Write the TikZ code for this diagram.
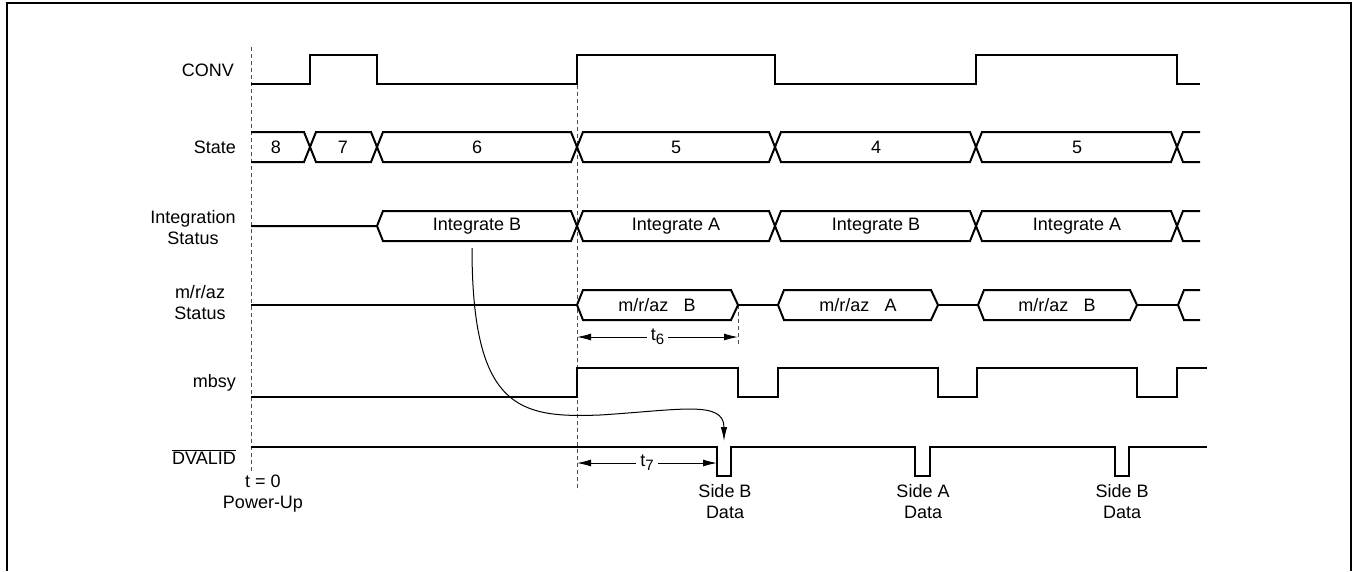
\documentclass[tikz,border=0pt]{standalone}
\usepackage{fontspec}
\setmainfont{Liberation Sans}
\usetikzlibrary{arrows.meta}
\newcommand\lblfont{\fontsize{18pt}{21pt}\selectfont}
\tikzset{
  sig/.style={line width=2pt, line join=miter, line cap=butt},
  frameline/.style={line width=2pt},
  guide/.style={line width=1pt, black!70, dash pattern=on 4pt off 3pt},
  dim/.style={line width=1pt, {Latex[length=14pt,width=7pt]}-{Latex[length=14pt,width=7pt]}},
  lbl/.style={font=\lblfont, inner sep=0pt},
  dimlbl/.style={font=\lblfont, fill=white, inner sep=4pt},
  flow/.style={line width=1pt, -{Latex[length=14pt,width=6.5pt]}}
}
\newcommand\sub[1]{\raisebox{-0.45ex}{\fontsize{15pt}{15pt}\selectfont #1}}
\begin{document}
\begin{tikzpicture}[x=1pt,y=-1pt]
\useasboundingbox (0,0) rectangle (1356,571);
% frame
\draw[frameline] (7,571) -- (7,3) -- (1351,3) -- (1351,571);

% guide lines
\draw[guide] (251,47) -- (251,472);
\draw[guide] (577,85) -- (577,491);
\draw[guide] (738,305) -- (738,344);

% signal names
\node[lbl, anchor=east] (nconv) at (234,70) {CONV};
\node[lbl, anchor=east] (nstate) at (236,147) {State};
\node[lbl, align=center] (nint) at (193,227.5) {Integration\\Status};
\node[lbl, align=center] (nmraz) at (200,302.5) {m/r/az\\Status};
\node[lbl, anchor=east] (nmbsy) at (236,383) {mbsy};
\node[lbl, anchor=east] (ndv) at (236,457) {$\overline{\mbox{DVALID}}$};
\node[lbl, align=center] (npu) at (263,493.5) {t = 0\\Power-Up};

% CONV
\draw[sig] (251,84) -- (310,84) -- (310,55) -- (377,55) -- (377,84) -- (577,84) -- (577,55)
  -- (775,55) -- (775,84) -- (976,84) -- (976,55) -- (1177,55) -- (1177,84) -- (1200,84);

% State bus
\draw[sig] (251,132) -- (304,132) -- (316,162) -- (371,162) -- (383,132) -- (571,132) -- (583,162)
  -- (769,162) -- (781,132) -- (970,132) -- (982,162) -- (1171,162) -- (1183,132) -- (1200,132);
\draw[sig] (251,162) -- (304,162) -- (316,132) -- (371,132) -- (383,162) -- (571,162) -- (583,132)
  -- (769,132) -- (781,162) -- (970,162) -- (982,132) -- (1171,132) -- (1183,162) -- (1200,162);
\node[lbl] (s8) at (276,147) {8};
\node[lbl] (s7) at (343,147) {7};
\node[lbl] (s6) at (477,147) {6};
\node[lbl] (s5a) at (676,147) {5};
\node[lbl] (s4) at (876,147) {4};
\node[lbl] (s5b) at (1077,147) {5};

% Integration status bus
\draw[sig] (251,226) -- (377,226) -- (383,211) -- (571,211) -- (583,241) -- (769,241) -- (781,211)
  -- (970,211) -- (982,241) -- (1171,241) -- (1183,211) -- (1200,211);
\draw[sig] (377,226) -- (383,241) -- (571,241) -- (583,211) -- (769,211) -- (781,241)
  -- (970,241) -- (982,211) -- (1171,211) -- (1183,241) -- (1200,241);
\node[lbl] (ib1) at (477,226) {Integrate B};
\node[lbl] (ia1) at (676,226) {Integrate A};
\node[lbl] (ib2) at (876,226) {Integrate B};
\node[lbl] (ia2) at (1077,226) {Integrate A};

% m/r/az status
\draw[sig] (251,305) -- (577,305);
\draw[sig] (577,305) -- (583,290) -- (731,290) -- (738,305) -- (731,320) -- (583,320) -- cycle;
\draw[sig] (738,305) -- (778,305);
\draw[sig] (778,305) -- (784,290) -- (931,290) -- (938,305) -- (931,320) -- (784,320) -- cycle;
\draw[sig] (938,305) -- (978,305);
\draw[sig] (978,305) -- (984,290) -- (1130,290) -- (1137,305) -- (1130,320) -- (984,320) -- cycle;
\draw[sig] (1137,305) -- (1178,305);
\draw[sig] (1200,290) -- (1184,290) -- (1178,305) -- (1184,320) -- (1200,320);
\node[lbl] (m1) at (657,305) {m/r/az\hspace{0.85em}B};
\node[lbl] (m2) at (858,305) {m/r/az\hspace{0.85em}A};
\node[lbl] (m3) at (1057,305) {m/r/az\hspace{0.85em}B};

% t6
\coordinate (t6a) at (577,337);
\coordinate (t6b) at (738,337);
\draw[dim] (t6a) -- node[dimlbl] (t6) {t\sub{6}} (t6b);

% mbsy
\draw[sig] (251,397) -- (577,397) -- (577,368) -- (738,368) -- (738,397) -- (778,397) -- (778,368)
  -- (938,368) -- (938,397) -- (977,397) -- (977,368) -- (1137,368) -- (1137,397) -- (1177,397)
  -- (1177,368) -- (1207,368);

% DVALID
\draw[sig] (251,447) -- (717,447) -- (717,476) -- (731,476) -- (731,447) -- (915,447) -- (915,476)
  -- (930,476) -- (930,447) -- (1115,447) -- (1115,476) -- (1129,476) -- (1129,447) -- (1207,447);

% t7
\coordinate (t7a) at (577,463);
\coordinate (t7b) at (717,463);
\draw[dim] (t7a) -- node[dimlbl] (t7) {t\sub{7}} (t7b);

% data labels
\node[lbl, align=center] (d1) at (725,501.5) {Side B\\Data};
\node[lbl, align=center] (d2) at (923,501.5) {Side A\\Data};
\node[lbl, align=center] (d3) at (1122,501.5) {Side B\\Data};

% causal arrow
\coordinate (cstart) at (472,248);
\coordinate (cmid) at (600,415);
\coordinate (cend) at (724,441);
\draw[line width=1pt] (cstart) .. controls (472,410) and (520,418) .. (cmid);
\draw[flow] (cmid) .. controls (680,410) and (724,400) .. (cend);
\end{tikzpicture}
\end{document}
